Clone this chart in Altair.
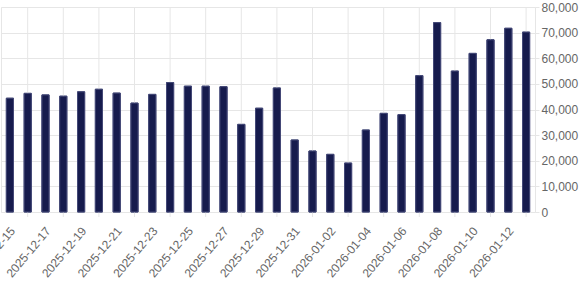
import altair as alt
import pandas as pd

dates = [
    "2025-12-15", "2025-12-16", "2025-12-17", "2025-12-18", "2025-12-19",
    "2025-12-20", "2025-12-21", "2025-12-22", "2025-12-23", "2025-12-24",
    "2025-12-25", "2025-12-26", "2025-12-27", "2025-12-28", "2025-12-29",
    "2025-12-30", "2025-12-31", "2026-01-01", "2026-01-02", "2026-01-03",
    "2026-01-04", "2026-01-05", "2026-01-06", "2026-01-07", "2026-01-08",
    "2026-01-09", "2026-01-10", "2026-01-11", "2026-01-12", "2026-01-13",
]
values = [
    44400, 46300, 45700, 45200, 46900,
    47900, 46400, 42500, 45900, 50500,
    49100, 49100, 48900, 34200, 40500,
    48400, 28100, 23800, 22500, 19100,
    32000, 38500, 38000, 53200, 73900,
    55000, 61900, 67200, 71700, 70200,
]
label_dates = dates[0::2]
grid_dates = dates[1::2]
y_ticks = [0, 10000, 20000, 30000, 40000, 50000, 60000, 70000, 80000]

df = pd.DataFrame({"date": dates, "value": values})
gdf = pd.DataFrame({"date": grid_dates})

W, H = 534, 205
GRID = "#e6e6e6"
FONT = "Liberation Sans"

xscale = alt.Scale(domain=dates, paddingInner=0.6, paddingOuter=0.3)
yscale = alt.Scale(domain=[0, 80000], nice=False)

xaxis = alt.Axis(
    values=label_dates,
    labelAngle=-50,
    labelAlign="right",
    labelBaseline="top",
    labelPadding=13,
    labelOffset=-1,
    labelColor="#666666",
    labelFontSize=12,
    labelFont=FONT,
    labelOverlap=False,
    labelBound=False,
    ticks=False,
    tickSize=0,
    domain=False,
    grid=False,
    title=None,
)

yaxis = alt.Axis(
    orient="right",
    values=y_ticks,
    format=",d",
    grid=True,
    gridColor=GRID,
    domain=False,
    tickColor=GRID,
    tickSize=4,
    labelPadding=2,
    labelColor="#666666",
    labelFontSize=12,
    labelFont=FONT,
    title=None,
)

bars = alt.Chart(df).mark_bar(
    color="#161b4d", stroke="#454a78", strokeWidth=1
).encode(
    x=alt.X("date:N", scale=xscale, axis=xaxis),
    y=alt.Y("value:Q", scale=yscale, axis=yaxis),
)

grid = alt.Chart(gdf).mark_rule(color=GRID, strokeWidth=1).encode(
    x=alt.X("date:N", scale=xscale, axis=xaxis),
    y=alt.value(0),
    y2=alt.value(H + 5),
)

chart = (
    alt.layer(bars, grid, bars)
    .properties(
        width=W,
        height=H,
        autosize=alt.AutoSizeParams(type="none"),
        padding={"left": 1, "top": 7, "right": 45, "bottom": 70},
    )
    .configure_view(stroke=GRID)
)

chart.save("out.html", embed_options={"renderer": "svg", "actions": False})
